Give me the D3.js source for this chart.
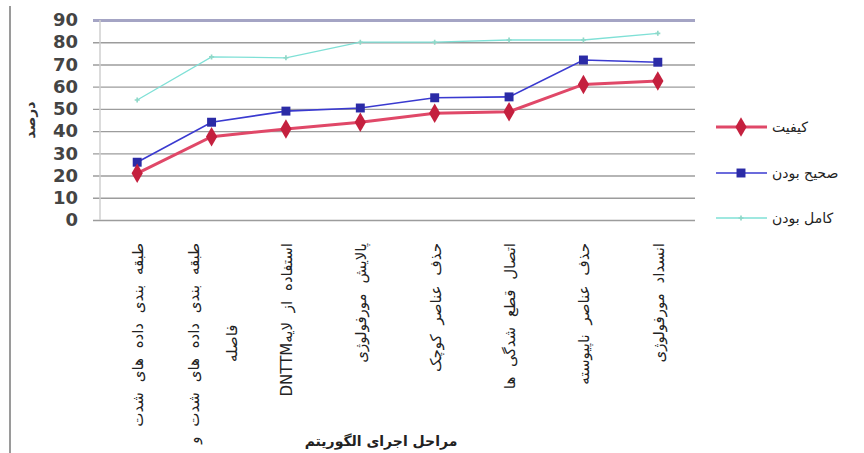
<!DOCTYPE html>
<html>
<head>
<meta charset="utf-8">
<script src="https://cdn.jsdelivr.net/npm/d3@7"></script>
<style>
  html, body { margin: 0; padding: 0; background: #fff; }
  svg { display: block; }
</style>
</head>
<body>
<svg id="chart" width="864" height="453"></svg>
<script>
// Stages of the algorithm (x categories); multi-line labels are split with "\n"
const categories = [
  "طبقه بندی داده های شدت",
  "طبقه بندی داده های شدت و\nفاصله",
  "استفاده از لایهDNTTM",
  "پالایش مورفولوژی",
  "حذف عناصر کوچک",
  "اتصال قطع شدگی ها",
  "حذف عناصر ناپیوسته",
  "انسداد مورفولوژی"
];
const quality      = [21, 37.5, 41, 44, 48, 48.7, 61, 62.5];   // کیفیت
const correctness  = [26, 44, 49, 50.4, 55, 55.4, 72, 71];     // صحیح بودن
const completeness = [54, 73.4, 73, 80, 80, 81, 81, 84];       // کامل بودن
const yTicks = [0, 10, 20, 30, 40, 50, 60, 70, 80, 90];
const seriesNames = ["کیفیت", "صحیح بودن", "کامل بودن"];
const yTitle = "درصد";
const xTitle = "مراحل اجرای الگوریتم";

const svg = d3.select("#chart");
const plot = { left: 100, right: 695, top: 20, bottom: 220 };

const x = d3.scalePoint().domain(d3.range(categories.length))
  .range([plot.left, plot.right]).padding(0.5);
const y = d3.scaleLinear().domain([0, 90]).range([plot.bottom, plot.top]);

// outer frame line on the left
svg.append("line").attr("x1", 10).attr("x2", 10).attr("y1", 6).attr("y2", 453)
  .attr("stroke", "#9a9a9a").attr("stroke-width", 2);

// gridlines + y axis
const yAxis = d3.axisLeft(y).tickValues(yTicks).tickSize(-(plot.right - plot.left + 7))
  .tickPadding(0).tickFormat(d3.format("d"));
const gy = svg.append("g").attr("transform", `translate(${plot.left - 7},0)`).call(yAxis);
gy.select(".domain").remove();
gy.selectAll(".tick line")
  .attr("stroke", d => d === 90 ? "#a4a4c4" : "#9c9c9c")
  .attr("stroke-width", d => d === 90 ? 3 : 1.4);
gy.selectAll(".tick text")
  .attr("x", -15)
  .attr("font-family", "DejaVu Sans")
  .attr("font-weight", "bold")
  .attr("font-size", 18)
  .attr("fill", "#444");

// left axis line
svg.append("line").attr("x1", plot.left).attr("x2", plot.left)
  .attr("y1", plot.top).attr("y2", plot.bottom)
  .attr("stroke", "#cfcfcf").attr("stroke-width", 1.5);

// y title
svg.append("text")
  .attr("transform", `translate(35,120) rotate(-90)`)
  .attr("text-anchor", "middle")
  .attr("font-family", "DejaVu Sans").attr("font-weight", "bold")
  .attr("font-size", 14).attr("fill", "#333")
  .text(yTitle);

// category labels, rotated, hanging down from under the plot (right-to-left text)
const labelTop = 243;
const lab = svg.append("g");
const labelText = sel => sel
  .attr("direction", "rtl")
  .attr("font-family", "DejaVu Sans").attr("font-size", 15)
  .attr("word-spacing", 5)
  .attr("fill", "#222");
categories.forEach((c, i) => {
  const lines = c.split("\n");
  const lh = 38;
  const x0 = x(i) - (lines.length - 1) * lh / 2;
  const t0 = lab.append("text")
    .attr("transform", `translate(${x0 + 6},${labelTop}) rotate(-90)`)
    .attr("text-anchor", "start")
    .call(labelText)
    .text(lines[0]);
  if (lines.length > 1) {
    const len = t0.node().getComputedTextLength();
    lines.slice(1).forEach((ln, k) => {
      lab.append("text")
        .attr("transform", `translate(${x0 + 6 + lh * (k + 1)},${labelTop + len / 2}) rotate(-90)`)
        .attr("text-anchor", "middle")
        .call(labelText)
        .text(ln);
    });
  }
});

// x title
svg.append("text")
  .attr("x", 381).attr("y", 446)
  .attr("text-anchor", "middle")
  .attr("font-family", "DejaVu Sans").attr("font-weight", "bold")
  .attr("font-size", 14).attr("fill", "#222")
  .text(xTitle);

// series
const line = d3.line().x((d, i) => x(i)).y(d => y(d));
const series = [
  { values: completeness, stroke: "#7fe0d6", width: 1.3, marker: "tick", mfill: "#8fd8c8", msize: 14 },
  { values: correctness, stroke: "#3a3ad0", width: 1.6, marker: "square", mfill: "#2b2ba6", msize: 80 },
  { values: quality, stroke: "#e04868", width: 3, marker: "diamond", mfill: "#c4203e", msize: 110 }
];
const symbolOf = m => m === "square" ? d3.symbolSquare : m === "diamond" ? d3.symbolDiamond : d3.symbolCross;

series.forEach(s => {
  svg.append("path").datum(s.values)
    .attr("d", line).attr("fill", "none")
    .attr("stroke", s.stroke).attr("stroke-width", s.width);
  svg.append("g").selectAll("path").data(s.values).join("path")
    .attr("transform", (d, i) => `translate(${x(i)},${y(d)})`)
    .attr("d", d3.symbol().type(symbolOf(s.marker)).size(s.msize))
    .attr("fill", s.mfill);
});

// legend
const legend = svg.append("g");
const legRows = [
  { name: seriesNames[0], s: series[2], y: 127 },
  { name: seriesNames[1], s: series[1], y: 173 },
  { name: seriesNames[2], s: series[0], y: 218 }
];
legRows.forEach(r => {
  legend.append("line").attr("x1", 716).attr("x2", 767)
    .attr("y1", r.y).attr("y2", r.y)
    .attr("stroke", r.s.stroke).attr("stroke-width", r.s.width);
  legend.append("path")
    .attr("transform", `translate(741,${r.y})`)
    .attr("d", d3.symbol().type(symbolOf(r.s.marker)).size(r.s.msize))
    .attr("fill", r.s.mfill);
  legend.append("text")
    .attr("x", 772).attr("y", r.y + 5)
    .attr("font-family", "DejaVu Sans").attr("font-size", 14)
    .attr("fill", "#222")
    .text(r.name);
});
</script>
</body>
</html>
